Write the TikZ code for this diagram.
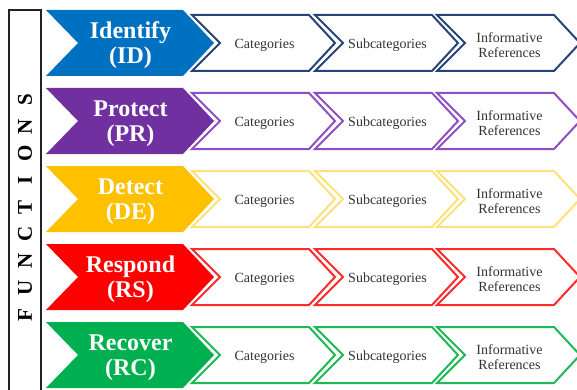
\documentclass[tikz,border=0pt]{standalone}
\usepackage{fontspec}
\setmainfont{Liberation Serif}
\usetikzlibrary{calc}

\definecolor{idfill}{HTML}{0070C0}
\definecolor{idline}{HTML}{264478}
\definecolor{prfill}{HTML}{7030A0}
\definecolor{prline}{HTML}{8E4FC4}
\definecolor{defill}{HTML}{FFC000}
\definecolor{deline}{HTML}{FFE17A}
\definecolor{rsfill}{HTML}{FF0000}
\definecolor{rsline}{HTML}{FF2A2A}
\definecolor{rcfill}{HTML}{00B050}
\definecolor{rcline}{HTML}{1DB954}
\definecolor{textgray}{HTML}{333333}
\definecolor{framegray}{HTML}{222222}

\begin{document}
\begin{tikzpicture}[
        %one unit is one pixel of the reference, y runs downwards
        x=1pt, y=-1pt,
        frame/.style={line width=2pt, draw=framegray},
        outline chevron/.style={line width=2pt, line join=miter, fill=white},
        function text/.style={text=white, align=center,
            font=\fontsize{24}{25}\selectfont\bfseries},
        part text/.style={text=textgray, align=center,
            font=\fontsize{14}{15}\selectfont},
        side letter/.style={rotate=90, text=black,
            font=\fontsize{21}{21}\selectfont\bfseries}
     ]
    \useasboundingbox (0,0) rectangle (577,390);

    % the frame with the vertical title
    \draw[frame] (9,10) rectangle (41,395);
    \foreach \letter [count=\i] in {F,U,N,C,T,I,O,N,S}
        \node[side letter] (fn\i) at (25,315-26.9*\i+26.9) {\letter};

    % one row for each function
    \foreach \fname/\fabbr/\fc/\lc [count=\r] in
        {Identify/ID/idfill/idline, Protect/PR/prfill/prline,
         Detect/DE/defill/deline, Respond/RS/rsfill/rsline,
         Recover/RC/rcfill/rcline}
    {
        \pgfmathsetmacro\t{10+78*(\r-1)}
        % big filled chevron
        \fill[\fc] (46,\t) -- (183,\t) -- (214,\t+33) -- (183,\t+66)
            -- (46,\t+66) -- (78,\t+33) -- cycle;
        \node[function text] (fun\r) at (130.5,\t+35.5) {\fname\\(\fabbr)};
        % outlined chevrons
        \foreach \part/\lx [count=\k] in
            {Categories/192, Subcategories/315, {Informative\\References}/437}
        {
            \draw[outline chevron, draw=\lc] (\lx,\t+5) -- (\lx+117,\t+5)
                -- (\lx+143,\t+33) -- (\lx+117,\t+61) -- (\lx,\t+61)
                -- (\lx+28,\t+33) -- cycle;
            \node[part text] (part\r-\k) at (\lx+72.5,\t+35) {\part};
        }
    }
\end{tikzpicture}
\end{document}
